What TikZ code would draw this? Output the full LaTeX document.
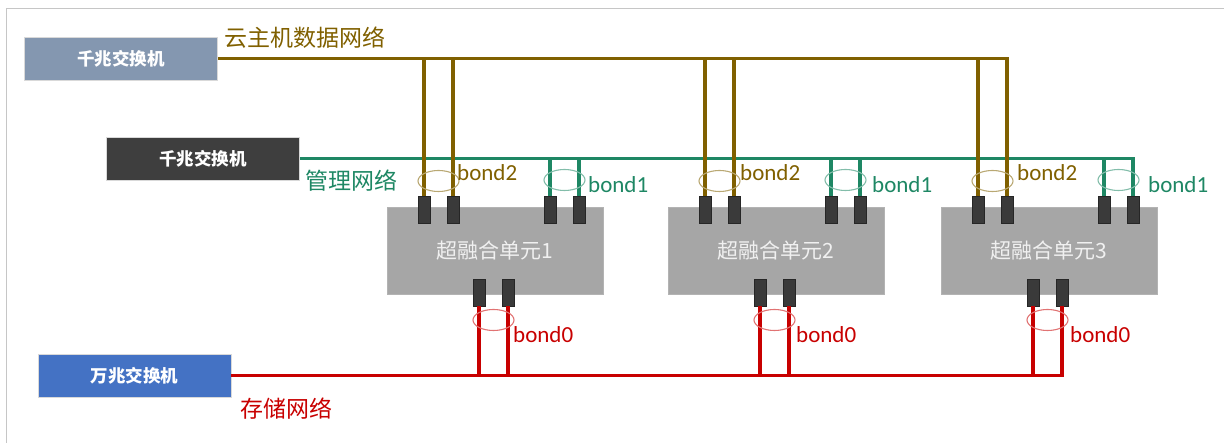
\documentclass[tikz,border=0pt]{standalone}
\usepackage{fontspec}
\setmainfont{Carlito}
\newfontfamily\cjk{Noto Sans CJK SC}
\usetikzlibrary{shapes.geometric}
\definecolor{brn}{RGB}{128,96,0}
\definecolor{grn}{RGB}{30,135,100}
\definecolor{rd}{RGB}{200,0,0}
\definecolor{swA}{RGB}{132,151,176}
\definecolor{swB}{RGB}{62,62,62}
\definecolor{swC}{RGB}{68,114,196}
\definecolor{unitgray}{RGB}{166,166,166}
\definecolor{portgray}{RGB}{58,58,58}
\tikzset{
  switchbox/.style={draw=white!85!black, line width=0.8pt, minimum width=193pt, minimum height=43pt,
    inner sep=0pt, text=white, font=\cjk\bfseries\fontsize{17.5}{20}\selectfont},
  unitbox/.style={draw=unitgray!85!white, fill=unitgray, line width=0.8pt, minimum width=216pt,
    minimum height=87pt, inner sep=0pt, text=white!94!black, font=\cjk\fontsize{21}{24}\selectfont},
  portbox/.style={draw=black!85, fill=portgray, line width=0.6pt, minimum width=12pt, minimum height=27pt, inner sep=0pt},
  bondring/.style={ellipse, draw, line width=1.1pt, minimum width=41pt, minimum height=21pt, inner sep=0pt},
  bondlabel/.style={anchor=west, inner sep=0pt, font=\fontsize{23}{26}\selectfont},
  netlabel/.style={anchor=west, inner sep=0pt, font=\cjk\fontsize{23}{26}\selectfont},
  wire/.style={line width=3.2pt},
}
\begin{document}
\begin{tikzpicture}[x=1pt,y=-1pt]
\useasboundingbox (0,0) rectangle (1224,443);
\draw[gray!45, line width=1pt] (1224,9) -- (6.5,9) -- (6.5,443);

% switches
\node[switchbox, fill=swA] (sw1) at (121,58.5) {千兆交换机};
\node[switchbox, fill=swB] (sw2) at (203,158.5) {千兆交换机};
\node[switchbox, fill=swC] (sw3) at (134.5,375.5) {万兆交换机};

% network labels
\node[netlabel, text=brn] (lbl1) at (224,38) {云主机数据网络};
\node[netlabel, text=grn] (lbl2) at (305,181) {管理网络};
\node[netlabel, text=rd] (lbl3) at (240,409) {存储网络};

% units and ports
\foreach \i/\x in {1/387, 2/668, 3/941} {
  \node[unitbox] (u\i) at (\x+108,250.5) {超融合单元\i};
  \node[portbox] (pa\i) at (\x+37,209.5) {};
  \node[portbox] (pb\i) at (\x+66,209.5) {};
  \node[portbox] (pc\i) at (\x+163,209.5) {};
  \node[portbox] (pd\i) at (\x+192,209.5) {};
  \node[portbox] (pe\i) at (\x+92,292.5) {};
  \node[portbox] (pf\i) at (\x+121,292.5) {};
}

% management network (green)
\draw[wire, grn] (sw2.east) -- (pd3.north |- sw2.east) -- (pd3.north);
\foreach \i in {1,2,3} {
  \draw[wire, grn] (pc\i.north) -- (pc\i.north |- sw2.east);
  \draw[wire, grn] (pd\i.north) -- (pd\i.north |- sw2.east);
}
% data network (brown)
\draw[wire, brn] (sw1.east) -- (pb3.north |- sw1.east) -- (pb3.north);
\foreach \i in {1,2,3} {
  \draw[wire, brn] (pa\i.north) -- (pa\i.north |- sw1.east);
  \draw[wire, brn] (pb\i.north) -- (pb\i.north |- sw1.east);
}
% storage network (red)
\draw[wire, rd] (sw3.east) -- (pf3.south |- sw3.east) -- (pf3.south);
\foreach \i in {1,2,3} {
  \draw[wire, rd] (pe\i.south) -- (pe\i.south |- sw3.east);
  \draw[wire, rd] (pf\i.south) -- (pf\i.south |- sw3.east);
}

% bonds
\foreach \i/\x/\ta/\tb/\tc in {1/387/70/201/126, 2/668/72/204/128, 3/941/76/207/129} {
  \node[bondring, draw=brn!55] (eb\i) at (\x+51.5,181) {};
  \node[bondring, draw=grn!55] (eg\i) at (\x+177.5,180) {};
  \node[bondring, draw=rd!55] (er\i) at (\x+106.5,320) {};
  \node[bondlabel, text=brn] (tb\i) at (\x+\ta,173) {bond2};
  \node[bondlabel, text=grn] (tg\i) at (\x+\tb,185) {bond1};
  \node[bondlabel, text=rd] (tr\i) at (\x+\tc,335) {bond0};
}
\end{tikzpicture}
\end{document}
